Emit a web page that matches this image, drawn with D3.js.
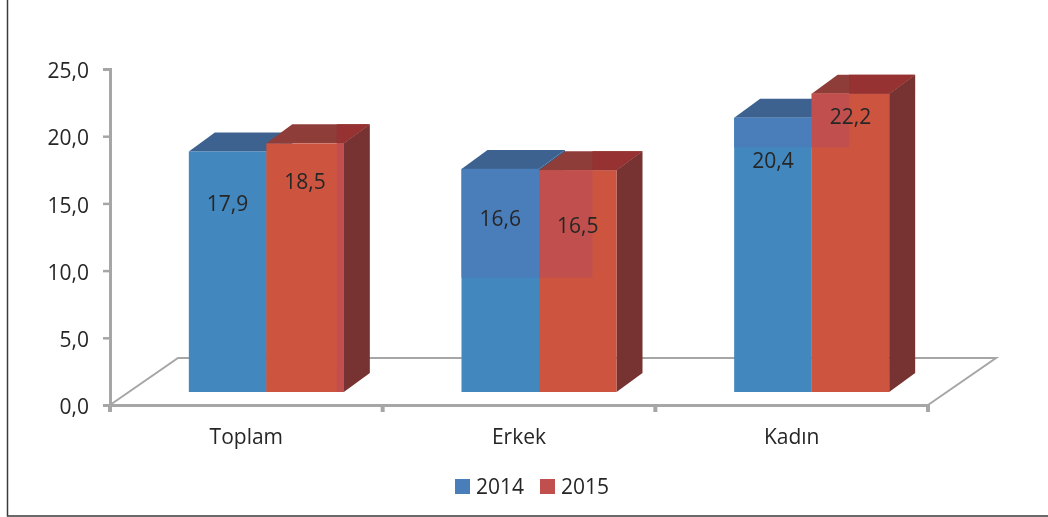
<!DOCTYPE html>
<html>
<head>
<meta charset="utf-8">
<script src="https://cdn.jsdelivr.net/npm/d3@7"></script>
<style>
  html, body { margin: 0; padding: 0; background: #fff; }
  svg { display: block; }
  text { font-family: "Open Sans", sans-serif; fill: #262626; }
</style>
</head>
<body>
<svg id="chart"></svg>
<script>
const categories = ["Toplam", "Erkek", "Kadın"];
const years = ["2014", "2015"];
const values2014 = [17.9, 16.6, 20.4];
const values2015 = [18.5, 16.5, 22.2];
const yTicks = [0, 5, 10, 15, 20, 25];
// pale band left behind the labels in the original, low end read on the value axis
const tintLow = [0, 8.5, 18.2];
const tintInset = [7, 24, 40];

const width = 1048;
const height = 517;
const axisX = 110;
const axisRight = 928;
const axisBottomY = 405;
const axisTopY = 69;

// oblique 3D offsets
const floorDx = 68, floorDy = 47;
const barDx = 26, barDy = 19;
const baseLift = 13; // front of bars sits above the floor edge
const groupShift = 20;
const groupWidth = 155;
const fontSize = "21px";

const fmt = (v) => v.toFixed(1).replace(".", ",");

const svg = d3.select("#chart").attr("width", width).attr("height", height);

svg.append("defs").append("filter").attr("id", "soft")
  .append("feGaussianBlur").attr("stdDeviation", 0.55);

const root = svg.append("g").attr("filter", "url(#soft)");

// outer frame, only left and bottom are in the crop
root.append("path")
  .attr("d", `M7.5,0V516H${width}`)
  .attr("fill", "none")
  .attr("stroke", "#3a3a3a")
  .attr("stroke-width", 1.5);

const x = d3.scaleBand().domain(categories).range([axisX, axisRight]);
const y = d3.scaleLinear().domain([0, 25]).range([axisBottomY, axisTopY]);
const inner = d3.scaleBand().domain(years).range([0, groupWidth]);

// floor
root.append("path")
  .attr("d", d3.line()([
    [axisX, y(0)],
    [axisX + floorDx, y(0) - floorDy],
    [axisRight + floorDx, y(0) - floorDy],
    [axisRight, y(0)],
  ]))
  .attr("fill", "none")
  .attr("stroke", "#a6a6a6")
  .attr("stroke-width", 2);

const styleAxis = (g) => {
  g.select(".domain").attr("stroke", "#a6a6a6").attr("stroke-width", 3);
  g.selectAll(".tick line").attr("stroke", "#a6a6a6").attr("stroke-width", 2.5);
  g.selectAll("text").attr("fill", "#262626")
    .style("font-size", fontSize)
    .style("font-family", '"Open Sans", sans-serif');
};

const yAxis = root.append("g")
  .attr("transform", `translate(${axisX},0)`)
  .call(d3.axisLeft(y).tickValues(yTicks).tickFormat(fmt).tickSize(7).tickSizeOuter(7).tickPadding(14))
  .call(styleAxis);
yAxis.selectAll("text").attr("dy", "0.41em");

const xAxis = root.append("g")
  .attr("transform", `translate(0,${axisBottomY})`)
  .call(d3.axisBottom(x).tickSize(0).tickPadding(24).tickSizeOuter(7))
  .call(styleAxis);
xAxis.selectAll(".boundary")
  .data([...categories.map((c) => x(c)), axisRight])
  .enter().append("line")
  .attr("x1", (d) => d).attr("x2", (d) => d)
  .attr("y1", 0).attr("y2", 7)
  .attr("stroke", "#a6a6a6").attr("stroke-width", 4);

const faces = {
  "2014": { front: "#4287bd", top: "#3d6290", side: "#2f5f8f" },
  "2015": { front: "#cd5441", top: "#8f3c39", side: "#773030" },
};

const barY = (v) => y(v) - baseLift;
const barBase = barY(0);
const groupX = (c) => x(c) + (x.bandwidth() - groupWidth) / 2 + groupShift;

const rows = categories.map((c, i) => ({
  category: c,
  idx: i,
  bars: [
    { year: "2014", value: values2014[i] },
    { year: "2015", value: values2015[i] },
  ],
}));

const groups = root.append("g").selectAll("g")
  .data(rows).enter().append("g")
  .attr("transform", (d) => `translate(${groupX(d.category)},0)`);

years.forEach((year) => {
  const w = inner.bandwidth();
  const bx = inner(year);
  const pick = (d) => d.bars.find((b) => b.year === year).value;
  const f = faces[year];

  // side
  groups.append("path")
    .attr("d", (d) => {
      const top = barY(pick(d));
      return d3.line()([
        [bx + w, top], [bx + w + barDx, top - barDy],
        [bx + w + barDx, barBase - barDy], [bx + w, barBase],
      ]) + "Z";
    })
    .attr("fill", f.side);

  // top
  groups.append("path")
    .attr("d", (d) => {
      const top = barY(pick(d));
      return d3.line()([
        [bx, top], [bx + barDx, top - barDy],
        [bx + w + barDx, top - barDy], [bx + w, top],
      ]) + "Z";
    })
    .attr("fill", f.top);

  // front
  groups.append("rect")
    .attr("x", bx)
    .attr("y", (d) => barY(pick(d)))
    .attr("width", w)
    .attr("height", (d) => barBase - barY(pick(d)))
    .attr("fill", f.front);
});

// the tinted patch over the front faces
groups.each(function (d) {
  const g = d3.select(this);
  const [b14, b15] = d.bars;
  const right = groupWidth - tintInset[d.idx];
  const low = barY(tintLow[d.idx]);
  const t = barY(b15.value);
  if (d.idx === 0) {
    // Toplam only shows the pale strip at the far right
    g.append("rect")
      .attr("x", right).attr("y", t)
      .attr("width", groupWidth - right).attr("height", barBase - t)
      .attr("fill", "#c0504d");
  } else {
    g.append("rect")
      .attr("x", inner("2014")).attr("y", barY(b14.value))
      .attr("width", inner.bandwidth()).attr("height", low - barY(b14.value))
      .attr("fill", "#4a7ebb");
    g.append("rect")
      .attr("x", inner("2015")).attr("y", t)
      .attr("width", right - inner("2015")).attr("height", low - t)
      .attr("fill", "#c0504d");
  }
  // brighter red on the part of the top face past the tint
  g.append("path")
    .attr("d", d3.line()([
      [right, t - barDy],
      [groupWidth + barDx, t - barDy],
      [groupWidth, t],
      [right, t],
    ]) + "Z")
    .attr("fill", "#963030");
});

// data labels, placed below each bar top as in the original
const labelDrop = [[53, 39], [50, 56], [43, 23]];
groups.each(function (d) {
  const g = d3.select(this);
  d.bars.forEach((b, j) => {
    g.append("text")
      .attr("x", inner(b.year) + inner.bandwidth() / 2)
      .attr("y", barY(b.value) + labelDrop[d.idx][j] + 7)
      .attr("text-anchor", "middle")
      .style("font-size", fontSize)
      .text(fmt(b.value));
  });
});

// legend
const legend = root.append("g").attr("transform", "translate(455,479)");
const legendX = d3.scaleBand().domain(years).range([0, 170]);
const item = legend.selectAll("g").data(years).enter().append("g")
  .attr("transform", (d) => `translate(${legendX(d)},0)`);
item.append("rect").attr("width", 15).attr("height", 15)
  .attr("fill", (d) => (d === "2014" ? "#4a7ebb" : "#c0504d"));
item.append("text").attr("x", 21).attr("y", 15)
  .style("font-size", fontSize).text((d) => d);
</script>
</body>
</html>
